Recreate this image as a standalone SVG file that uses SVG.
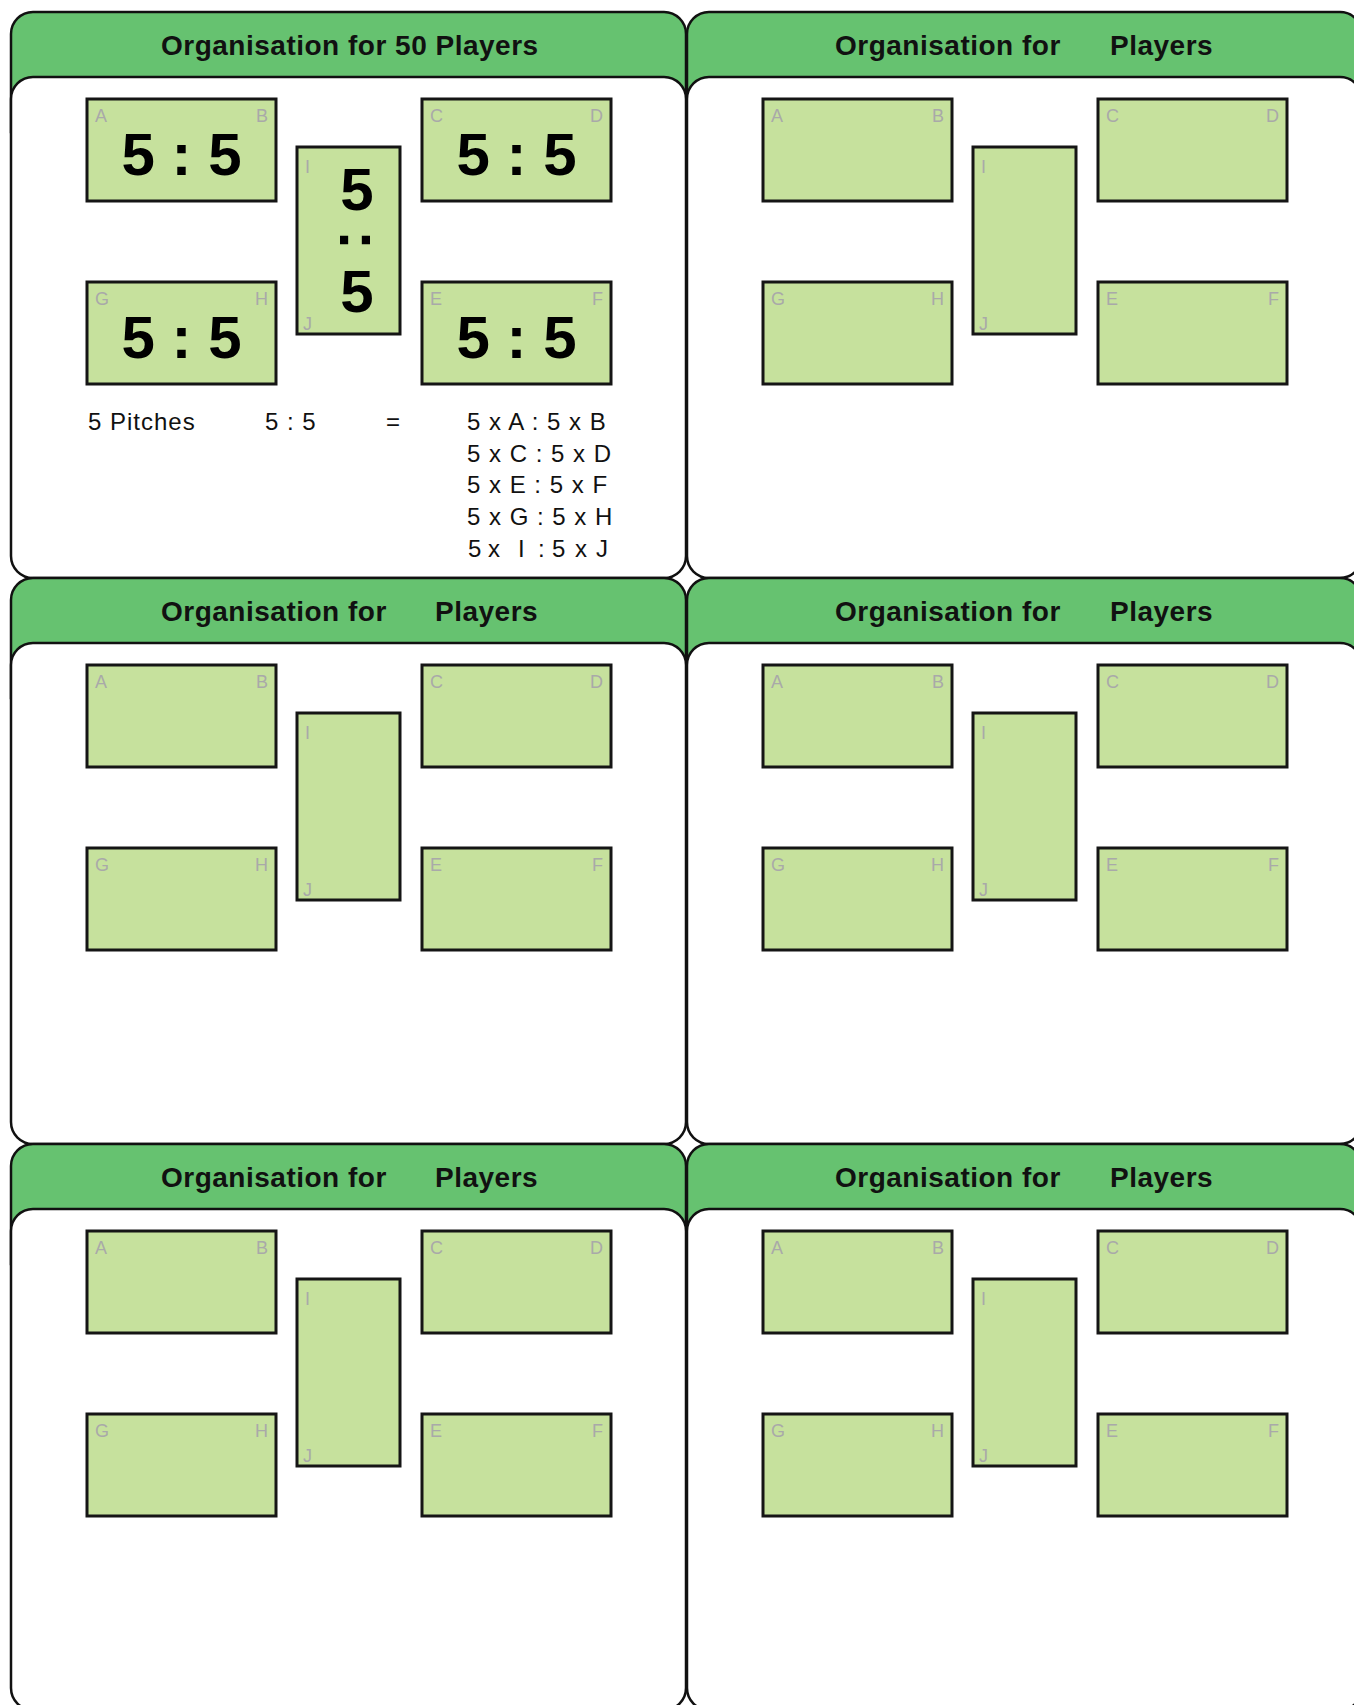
<svg xmlns="http://www.w3.org/2000/svg" width="1354" height="1705" viewBox="0 0 1354 1705">
<style>
.hdr{fill:#66c270;stroke:#111;stroke-width:2.5}
.body{fill:#fff;stroke:#111;stroke-width:2.5}
.pitch{fill:#c6e19d;stroke:#151515;stroke-width:3}
.title{font-family:"Liberation Sans",Arial,sans-serif;font-weight:bold;font-size:28px;letter-spacing:0.5px;fill:#111}
.lbl{font-family:"Liberation Sans",Arial,sans-serif;font-size:18px;fill:#a9a9a9}
.big{font-family:"Liberation Sans",Arial,sans-serif;font-weight:bold;font-size:60px;fill:#000}
.note{font-family:"Liberation Sans",Arial,sans-serif;font-size:24px;letter-spacing:1px;fill:#111}
</style>
<defs>
<path id="hdrShape" d="M0,120 V22 A22,22 0 0 1 22,0 H653 A22,22 0 0 1 675,22 V120 Z"/>
<g id="pitches">
<rect class="pitch" x="76" y="87" width="189" height="102"/>
<rect class="pitch" x="411" y="87" width="189" height="102"/>
<rect class="pitch" x="76" y="270" width="189" height="102"/>
<rect class="pitch" x="411" y="270" width="189" height="102"/>
<rect class="pitch" x="286" y="135" width="103" height="187"/>
<text class="lbl" x="84" y="110">A</text>
<text class="lbl" x="257" y="110" text-anchor="end">B</text>
<text class="lbl" x="419" y="110">C</text>
<text class="lbl" x="592" y="110" text-anchor="end">D</text>
<text class="lbl" x="84" y="293">G</text>
<text class="lbl" x="257" y="293" text-anchor="end">H</text>
<text class="lbl" x="419" y="293">E</text>
<text class="lbl" x="592" y="293" text-anchor="end">F</text>
<text class="lbl" x="294" y="161">I</text>
<text class="lbl" x="292" y="318">J</text>
</g>
</defs>
<rect width="1354" height="1705" fill="#fff"/>

<g id="panel-1" transform="translate(11,12)">
<use href="#hdrShape" class="hdr"/>
<rect class="body" x="0" y="65" width="675" height="501" rx="22"/>
<text class="title" x="150" y="43">Organisation for 50 Players</text>
<use href="#pitches"/>
<text class="big" x="170.5" y="163" text-anchor="middle">5 : 5</text>
<text class="big" x="505.5" y="163" text-anchor="middle">5 : 5</text>
<text class="big" x="170.5" y="346" text-anchor="middle">5 : 5</text>
<text class="big" x="505.5" y="346" text-anchor="middle">5 : 5</text>
<text class="big" x="346" y="198" text-anchor="middle">5</text>
<text class="big" x="0" y="15.6" text-anchor="middle" transform="translate(344.5,228) rotate(90)">:</text>
<text class="big" x="346" y="300" text-anchor="middle">5</text>
<text class="note" x="77" y="418">5 Pitches</text>
<text class="note" x="254" y="418">5 : 5</text>
<text class="note" x="375" y="418">=</text>
<text class="note" x="456" y="418">5 x A : 5 x B</text>
<text class="note" x="456" y="450">5 x C : 5 x D</text>
<text class="note" x="456" y="481">5 x E : 5 x F</text>
<text class="note" x="456" y="513">5 x G : 5 x H</text>
<text class="note" x="457 470 477 490 507 514 527 534 541 554 564 576 585" y="545">5 x I : 5 x J</text>
</g>

<g id="panel-2" transform="translate(687,12)">
<use href="#hdrShape" class="hdr"/>
<rect class="body" x="0" y="65" width="675" height="501" rx="22"/>
<text class="title" x="148" y="43">Organisation for</text>
<text class="title" x="423" y="43">Players</text>
<use href="#pitches"/>
</g>

<g id="panel-3" transform="translate(11,578)">
<use href="#hdrShape" class="hdr"/>
<rect class="body" x="0" y="65" width="675" height="501" rx="22"/>
<text class="title" x="150" y="43">Organisation for</text>
<text class="title" x="424" y="43">Players</text>
<use href="#pitches"/>
</g>

<g id="panel-4" transform="translate(687,578)">
<use href="#hdrShape" class="hdr"/>
<rect class="body" x="0" y="65" width="675" height="501" rx="22"/>
<text class="title" x="148" y="43">Organisation for</text>
<text class="title" x="423" y="43">Players</text>
<use href="#pitches"/>
</g>

<g id="panel-5" transform="translate(11,1144)">
<use href="#hdrShape" class="hdr"/>
<rect class="body" x="0" y="65" width="675" height="501" rx="22"/>
<text class="title" x="150" y="43">Organisation for</text>
<text class="title" x="424" y="43">Players</text>
<use href="#pitches"/>
</g>

<g id="panel-6" transform="translate(687,1144)">
<use href="#hdrShape" class="hdr"/>
<rect class="body" x="0" y="65" width="675" height="501" rx="22"/>
<text class="title" x="148" y="43">Organisation for</text>
<text class="title" x="423" y="43">Players</text>
<use href="#pitches"/>
</g>

<g id="connectors"/>
</svg>
